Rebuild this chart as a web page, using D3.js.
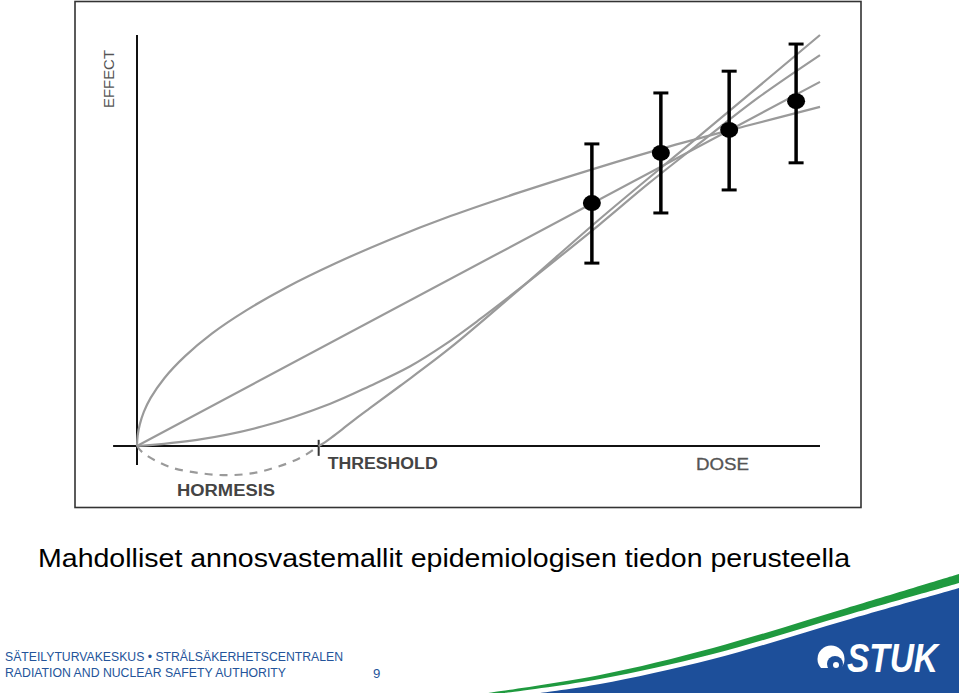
<!DOCTYPE html>
<html>
<head>
<meta charset="utf-8">
<script src="https://cdn.jsdelivr.net/npm/d3@7"></script>
<style>
html,body{margin:0;padding:0;background:#fff;}
svg{display:block;}
text{font-family:"Liberation Sans",Arial,Helvetica,sans-serif;}
</style>
</head>
<body>
<svg id="chart" width="959" height="693"></svg>
<script>
// ---- data (dose, effect) ----
const supraLinear = [[0,0],[0.1,2.6],[0.4,5.2],[1,8.3],[2,11.7],[4,16.5],[7,21.8],[11,27.4],[16,33],[22,38.7],[29,44.4],[37,50.2],[46,56],[56,61.7],[67,67.5],[78,72.9],[89,77.8],[100,82.5]];
const linearModel = [[0,0],[100,88.6]];
const linearQuadratic = [[0,0],[8.8,1.5],[18.4,4.8],[28.3,10.3],[34.1,14.6],[40,19.4],[45,24.6],[50,30.6],[56.1,38.4],[62,46.2],[67.8,54],[75,64],[83,74.5],[91,84.8],[100,95.1]];
const thresholdModel = [[26.6,0],[27.5,0.9],[28.5,2.1],[30,4.0],[32,6.6],[34.1,9.2],[38.5,14.6],[45.8,23.8],[56.1,38.3],[67.8,55.3],[82.4,75.5],[100,100]];
const hormesis = [[0,0],[0.9,-1.7],[4.8,-5.1],[9.2,-6.6],[13.2,-7.1],[17,-6.6],[20.5,-5.1],[23.9,-2.9],[26.6,0]];
const obsDose = [66.6, 76.7, 86.7, 96.5];
const obsEffect = [59.1, 71.3, 76.9, 83.9];
const obsLow = [44.5, 56.7, 62.3, 68.9];
const obsHigh = [73.5, 85.9, 91.2, 97.8];
const thresholdDose = 26.6;
const labels = {effect:"EFFECT", dose:"DOSE", threshold:"THRESHOLD", hormesis:"HORMESIS"};
const title = "Mahdolliset annosvastemallit epidemiologisen tiedon perusteella";
const footer1 = "SÄTEILYTURVAKESKUS • STRÅLSÄKERHETSCENTRALEN";
const footer2 = "RADIATION AND NUCLEAR SAFETY AUTHORITY";
const pageNo = "9";

const svg = d3.select("#chart");
const x = d3.scaleLinear().domain([0,100]).range([137,820]);
const y = d3.scaleLinear().domain([0,100]).range([446,35]);

// frame
svg.append("rect").attr("x",75).attr("y",1.5).attr("width",786).attr("height",506)
  .attr("fill","#fff").attr("stroke","#333").attr("stroke-width",1.6);

// axes
svg.append("line").attr("x1",x(-3.5)).attr("x2",x(100)).attr("y1",y(0)).attr("y2",y(0))
  .attr("stroke","#111").attr("stroke-width",2);
svg.append("line").attr("x1",x(0)).attr("x2",x(0)).attr("y1",y(100)).attr("y2",y(-4.6))
  .attr("stroke","#111").attr("stroke-width",2);
svg.append("line").attr("x1",x(thresholdDose)).attr("x2",x(thresholdDose)).attr("y1",y(1.5)).attr("y2",y(-2.4))
  .attr("stroke","#333").attr("stroke-width",2);

// curves
const line = d3.line().x(d=>x(d[0])).y(d=>y(d[1])).curve(d3.curveCatmullRom.alpha(0.5));
const curveG = svg.append("g").attr("fill","none").attr("stroke","#9a9a9a").attr("stroke-width",2.2);
[supraLinear, linearModel, linearQuadratic, thresholdModel].forEach(s=>{
  curveG.append("path").attr("d", line(s));
});
svg.append("path").attr("d", line(hormesis))
  .attr("fill","none").attr("stroke","#9a9a9a").attr("stroke-width",2.2).attr("stroke-dasharray","8,7");

// error bars & points
const eb = svg.append("g");
obsDose.forEach((d,i)=>{
  eb.append("line").attr("x1",x(d)).attr("x2",x(d)).attr("y1",y(obsLow[i])).attr("y2",y(obsHigh[i]))
    .attr("stroke","#000").attr("stroke-width",3.5);
  [obsLow[i],obsHigh[i]].forEach(v=>{
    eb.append("line").attr("x1",x(d)-7.5).attr("x2",x(d)+7.5).attr("y1",y(v)).attr("y2",y(v))
      .attr("stroke","#000").attr("stroke-width",3);
  });
  eb.append("ellipse").attr("cx",x(d)).attr("cy",y(obsEffect[i])).attr("rx",9).attr("ry",8).attr("fill","#000");
});

// labels
svg.append("text").attr("transform",`translate(${x(0)-23},${y(100)+44}) rotate(-90)`)
  .attr("text-anchor","middle").attr("font-size",15).attr("fill","#555")
  .attr("textLength",58).attr("lengthAdjust","spacingAndGlyphs").text(labels.effect);
svg.append("text").attr("x",x(thresholdDose)+9).attr("y",469).attr("font-size",16).attr("font-weight","bold")
  .attr("fill","#444").attr("textLength",110).attr("lengthAdjust","spacingAndGlyphs").text(labels.threshold);
svg.append("text").attr("x",177).attr("y",496).attr("font-size",16).attr("font-weight","bold")
  .attr("fill","#444").attr("textLength",98).attr("lengthAdjust","spacingAndGlyphs").text(labels.hormesis);
svg.append("text").attr("x",696).attr("y",469.5).attr("font-size",16)
  .attr("fill","#555").attr("stroke","#555").attr("stroke-width",0.3).attr("textLength",53).attr("lengthAdjust","spacingAndGlyphs").text(labels.dose);

// title
svg.append("text").attr("x",38).attr("y",567).attr("font-size",26.5).attr("fill","#000")
  .attr("textLength",812).attr("lengthAdjust","spacingAndGlyphs").text(title);

// footer
svg.append("text").attr("x",5).attr("y",661).attr("font-size",13.2).attr("fill","#24549a")
  .attr("textLength",338).attr("lengthAdjust","spacingAndGlyphs").text(footer1);
svg.append("text").attr("x",5).attr("y",677).attr("font-size",13.2).attr("fill","#24549a")
  .attr("textLength",281).attr("lengthAdjust","spacingAndGlyphs").text(footer2);
svg.append("text").attr("x",373).attr("y",678).attr("font-size",13.2).attr("fill","#24549a").text(pageNo);

// STUK logo
const greenTop = [[488,693],[600,675],[713,648],[847,608],[959,574]];
const greenBot = [[959,583],[847,615],[713,654],[600,679],[505,693]];
const blueTop = [[959,588],[847,620],[713,659],[600,684],[540,693]];
const lg = d3.line().curve(d3.curveCatmullRom);
svg.append("path").attr("d", lg(greenTop) + "L" + lg(greenBot).slice(1) + "Z").attr("fill","#1f9a3f");
svg.append("path").attr("d", lg(blueTop) + "L540,693L959,693Z").attr("fill","#1d4f9a");
// icon: white wave with blue curl
svg.append("circle").attr("cx",831).attr("cy",659).attr("r",13.5).attr("fill","#fff");
svg.append("circle").attr("cx",835).attr("cy",664).attr("r",8).attr("fill","#1d4f9a");
svg.append("rect").attr("x",817).attr("y",668).attr("width",30).attr("height",8).attr("fill","#1d4f9a");
svg.append("circle").attr("cx",836).attr("cy",665).attr("r",3).attr("fill","#fff");
svg.append("text").attr("x",847).attr("y",672).attr("font-size",40).attr("font-weight","bold").attr("font-style","italic")
  .attr("fill","#fff").attr("textLength",91).attr("lengthAdjust","spacingAndGlyphs").text("STUK");
</script>
</body>
</html>
